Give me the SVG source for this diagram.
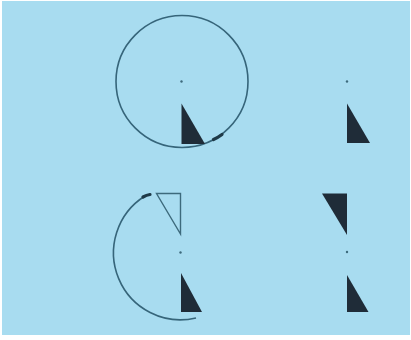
<svg xmlns="http://www.w3.org/2000/svg" width="411" height="340" viewBox="0 0 411 340">
<style>
.line{fill:none;stroke:#36657a;stroke-width:1.6}
.tri{fill:#1f2c38}
.open{fill:none;stroke:#3d6a7c;stroke-width:1.4;stroke-linejoin:miter}
.dot{fill:#3d6a7c}
.arrow{fill:none;stroke:#1f3a48;stroke-width:3.2;stroke-linecap:round}
</style>
<rect x="0" y="0" width="411" height="340" fill="#ffffff"/>
<rect x="2" y="1" width="408" height="334" fill="#a8dcf0"/>
<g id="fig-top-left">
<circle class="line" cx="182" cy="81.5" r="66"/>
<path class="arrow" d="M213.5,139.5 Q218,137.5 222,134.5"/>
<circle class="dot" cx="181.5" cy="81.5" r="1.2"/>
<polygon class="tri" points="181.5,103.5 181.5,144 205,144"/>
</g>
<g id="fig-top-right">
<circle class="dot" cx="347" cy="81.5" r="1.2"/>
<polygon class="tri" points="347,103.5 347,143 370,143"/>
</g>
<g id="fig-bottom-left">
<path class="line" d="M145,196 A67,67 0 0 0 196,318"/>
<path class="arrow" d="M143,197 Q146.5,195 150,194.5"/>
<polygon class="open" points="156.5,193.5 180.5,193.5 180.5,234"/>
<circle class="dot" cx="180.5" cy="252.5" r="1.2"/>
<polygon class="tri" points="181,273 181,312 202,312"/>
</g>
<g id="fig-bottom-right">
<polygon class="tri" points="322,193.5 347,193.5 347,235"/>
<circle class="dot" cx="347" cy="252" r="1.2"/>
<polygon class="tri" points="347,275 347,312 368.5,312"/>
</g>
</svg>
